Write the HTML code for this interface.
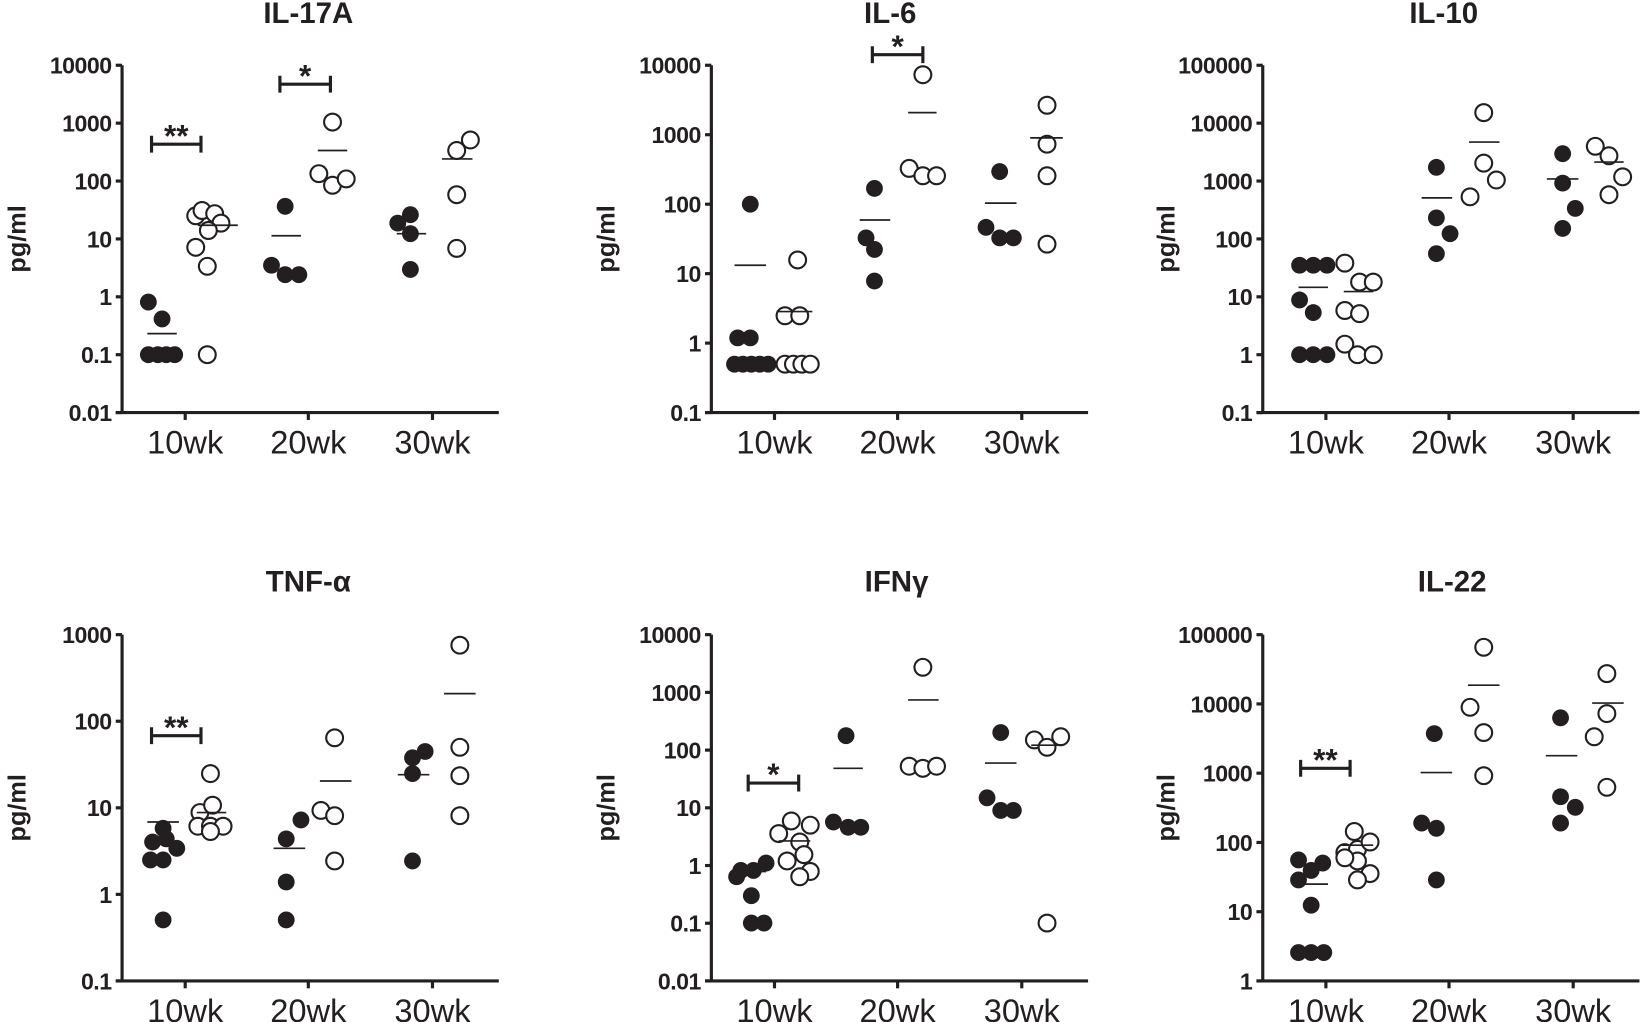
<!DOCTYPE html>
<html><head><meta charset="utf-8"><style>
html,body{margin:0;padding:0;background:#fff;width:1650px;height:1022px;overflow:hidden}
svg{display:block}
text{font-family:"Liberation Sans",Arial,sans-serif;fill:#231f20}
</style></head><body>
<svg id="s" width="1650" height="1022" viewBox="0 0 1568 971" preserveAspectRatio="none" xmlns="http://www.w3.org/2000/svg"></svg>
<script>
const S=document.getElementById('s');let h='';
const C='#231f20';
function panel(p){
  const ax=p.ax, top=p.top, bot=p.bot, n=p.labels.length-1, step=(bot-top)/n;
  h+=`<text x="${p.tx}" y="${p.ty}" font-size="28" font-weight="bold" text-anchor="middle">${p.title}</text>`;
  h+=`<line x1="${ax}" y1="${top}" x2="${ax}" y2="${bot}" stroke="${C}" stroke-width="3"/>`;
  h+=`<line x1="${ax-6}" y1="${bot}" x2="${ax+358}" y2="${bot}" stroke="${C}" stroke-width="3"/>`;
  p.labels.forEach((l,i)=>{const y=top+i*step;
    h+=`<line x1="${ax-6}" y1="${y}" x2="${ax}" y2="${y}" stroke="${C}" stroke-width="3"/>`;
    h+=`<text x="${ax-10}" y="${y+8}" font-size="22" font-weight="bold" text-anchor="end" letter-spacing="-0.5">${l}</text>`;});
  [60,177,295].forEach((d,i)=>{const x=ax+d;
    h+=`<line x1="${x}" y1="${bot}" x2="${x}" y2="${bot+7}" stroke="${C}" stroke-width="3"/>`;
    h+=`<text x="${x}" y="${bot+39}" font-size="31" text-anchor="middle">${['10wk','20wk','30wk'][i]}</text>`;});
  h+=`<text transform="translate(${p.yl},${(top+bot)/2}) rotate(-90)" font-size="24" font-weight="bold" text-anchor="middle">pg/ml</text>`;
  p.f.forEach(c=>h+=`<circle cx="${c[0]}" cy="${c[1]}" r="8" fill="${C}"/>`);
  p.o.forEach(c=>h+=`<circle cx="${c[0]}" cy="${c[1]}" r="8" fill="#fff" stroke="${C}" stroke-width="2"/>`);
  p.m.forEach(m=>h+=`<line x1="${m[0]}" y1="${m[2]}" x2="${m[1]}" y2="${m[2]}" stroke="${C}" stroke-width="1.6"/>`);
  p.b.forEach(b=>{h+=`<path d="M${b[0]} ${b[2]-8}V${b[2]+8}M${b[0]} ${b[2]}H${b[1]}M${b[1]} ${b[2]-8}V${b[2]+8}" stroke="${C}" stroke-width="3" fill="none"/>`;
    h+=`<text x="${(b[0]+b[1])/2}" y="${b[2]+2}" font-size="30" font-weight="bold" text-anchor="middle">${b[3]}</text>`;});
}
panel({title:'IL-17A',tx:293,ty:22,ax:116,top:62,bot:392,yl:24,labels:['10000','1000','100','10','1','0.1','0.01'],
 f:[[141,287],[154,303],[141,337],[150,337],[158,337],[166,337],[271,196],[258,252],[271,261],[284,261],[390,204],[378,212],[390,222],[390,256]],
 o:[[186,205],[192,200],[204,203],[210,212],[198,219],[186,235],[197,253],[197,337],[316,116],[303,165],[316,176],[329,170],[434,143],[447,133],[434,185],[434,236]],
 m:[[140,168,317],[188,226,214],[258,286,224],[302,330,143],[377,405,222],[420,449,151]],
 b:[[144,191,137,'**'],[266,314,80,'*']]});
panel({title:'IL-6',tx:846,ty:22,ax:676,top:62,bot:392,yl:584,labels:['10000','1000','100','10','1','0.1'],
 f:[[713,194],[701,321],[713,321],[698,346],[706,346],[714,346],[722,346],[730,346],[831,179],[823,226],[831,237],[831,267],[950,163],[937,216],[950,226],[963,226]],
 o:[[758,247],[746,300],[760,300],[746,346],[754,346],[762,346],[770,346],[877,71],[864,160],[877,167],[890,167],[995,100],[995,137],[995,167],[995,232]],
 m:[[698,728,252],[738,772,296],[817,846,209],[863,890,107],[936,966,193],[979,1010,131]],
 b:[[829,877,52,'*']]});
panel({title:'IL-10',tx:1372,ty:22,ax:1200,top:62,bot:392,yl:1116,labels:['100000','10000','1000','100','10','1','0.1'],
 f:[[1235,252],[1248,252],[1261,252],[1235,285],[1248,297],[1235,337],[1248,337],[1261,337],[1365,159],[1365,207],[1378,222],[1365,241],[1485,146],[1485,174],[1497,198],[1485,217]],
 o:[[1278,250],[1292,268],[1305,268],[1278,295],[1292,298],[1278,327],[1290,337],[1305,337],[1410,107],[1410,155],[1397,187],[1422,171],[1516,139],[1529,148],[1542,168],[1529,185]],
 m:[[1234,1262,273],[1277,1305,277],[1351,1380,188],[1396,1425,135],[1470,1500,170],[1515,1543,154]],b:[]});
panel({title:'TNF-α',tx:293,ty:562,ax:116,top:603,bot:932,yl:24,labels:['1000','100','10','1','0.1'],
 f:[[155,787],[145,800],[158,797],[168,806],[143,817],[155,817],[155,874],[272,797],[286,779],[272,838],[272,874],[392,720],[404,714],[392,735],[392,818]],
 o:[[200,735],[190,772],[202,765],[188,785],[200,785],[212,785],[200,790],[318,701],[305,770],[318,775],[318,818],[437,613],[437,710],[437,737],[437,775]],
 m:[[140,170,781],[187,215,772],[260,290,806],[304,334,742],[378,408,736],[422,452,659]],
 b:[[144,191,699,'**']]});
panel({title:'IFNγ',tx:852,ty:562,ax:676,top:603,bot:932,yl:584,labels:['10000','1000','100','10','1','0.1','0.01'],
 f:[[704,827],[716,827],[728,820],[700,833],[714,851],[714,877],[726,877],[804,699],[792,781],[806,786],[818,786],[951,696],[938,758],[951,770],[963,770]],
 o:[[752,780],[770,784],[740,792],[760,800],[748,818],[764,812],[770,828],[760,833],[877,634],[864,728],[877,730],[890,728],[983,703],[995,710],[1008,700],[995,877]],
 m:[[700,728,828],[740,770,799],[792,820,730],[863,892,665],[936,966,725],[980,1010,708]],
 b:[[711,759,744,'*']]});
panel({title:'IL-22',tx:1380,ty:562,ax:1200,top:603,bot:932,yl:1116,labels:['100000','10000','1000','100','10','1'],
 f:[[1234,817],[1257,820],[1234,836],[1246,827],[1246,860],[1234,905],[1246,905],[1258,905],[1363,697],[1351,782],[1365,787],[1365,836],[1483,682],[1483,757],[1497,767],[1483,782]],
 o:[[1287,790],[1278,810],[1290,807],[1302,800],[1290,818],[1302,830],[1290,836],[1278,815],[1410,615],[1397,672],[1410,696],[1410,737],[1527,640],[1527,678],[1515,700],[1527,748]],
 m:[[1233,1262,840],[1275,1305,803],[1350,1380,734],[1395,1425,651],[1469,1499,718],[1513,1543,668]],
 b:[[1236,1283,730,'**']]});
S.innerHTML=h;
</script>
</body></html>
